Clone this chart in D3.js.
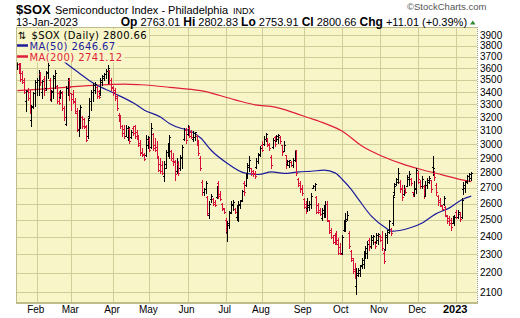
<!DOCTYPE html>
<html>
<head>
<meta charset="utf-8">
<script src="https://cdn.jsdelivr.net/npm/d3@7"></script>
<style>
  html, body { margin: 0; padding: 0; background: #fff; }
  svg { display: block; }
  text { font-family: "Liberation Sans", Arial, sans-serif; }
</style>
</head>
<body>
<svg id="chart" width="520" height="318"></svg>
<script>
// $SOX daily OHLC, 14-Jan-2022 .. 13-Jan-2023 (one entry per trading day)
var open = [3620,3640,3620,3560,3500,3330,3420,3400,3180,3290,3390,3480,3500,3550,3400,3510,3430,3570,3500,3340,
  3410,3530,3450,3390,3360,3390,3270,3150,3430,3500,3390,3380,3330,3230,3100,3220,3200,3190,3130,3060,
  3210,3330,3400,3420,3440,3410,3390,3480,3520,3550,3580,3580,3500,3440,3420,3370,3220,3200,3130,3110,
  3060,3050,3110,3050,3120,3130,3090,3050,3010,2940,2930,2920,2990,3030,2980,3070,2990,2980,2900,2860,
  2850,2780,2860,2940,2990,2950,2880,2880,2810,2860,2830,2900,3040,3100,3070,3120,3090,3040,3050,3060,
  3000,2900,2740,2670,2690,2640,2530,2630,2630,2610,2640,2730,2660,2600,2565,2500,2430,2470,2550,2590,
  2565,2520,2510,2590,2620,2730,2720,2780,2840,2830,2810,2800,2840,2880,2930,2990,3000,3040,3040,3000,
  2910,2980,3050,3020,3040,3050,2990,2950,2920,2860,2850,2870,2850,2890,2955,2760,2730,2700,2630,2600,
  2570,2580,2600,2700,2710,2640,2590,2560,2510,2540,2570,2600,2490,2440,2400,2410,2420,2380,2340,2310,
  2440,2480,2505,2420,2320,2280,2220,2130,2190,2200,2240,2250,2300,2310,2380,2345,2380,2370,2370,2380,
  2405,2400,2310,2330,2400,2440,2445,2480,2670,2725,2740,2740,2700,2660,2690,2710,2760,2760,2675,2660,
  2690,2800,2740,2710,2715,2650,2720,2740,2750,2840,2800,2720,2650,2620,2585,2595,2580,2525,2510,2500,
  2480,2490,2550,2520,2535,2520,2690,2700,2745,2780,2763.01];
var high = [3690,3650,3647,3574,3517,3419,3433,3419,3297,3400,3503,3517,3589,3570,3500,3531,3574,3650,3517,3419,
  3546,3589,3461,3406,3419,3406,3290,3447,3517,3517,3392,3419,3351,3272,3259,3297,3208,3195,3144,3195,
  3351,3419,3475,3480,3447,3419,3517,3546,3560,3590,3626,3589,3517,3447,3433,3378,3233,3221,3140,3144,
  3144,3131,3118,3105,3131,3144,3100,3068,3032,2971,2936,3068,3056,3044,3157,3080,3044,3020,2912,2900,
  2880,2877,2960,3007,3068,2960,2936,2889,2900,2877,2924,2995,3118,3118,3144,3130,3105,3093,3090,3068,
  3032,2912,2753,2698,2742,2645,2613,2660,2634,2624,2709,2742,2680,2602,2571,2510,2490,2551,2613,2624,
  2571,2592,2613,2624,2687,2742,2798,2866,2912,2832,2820,2809,2900,2936,2983,3020,3056,3080,3044,3007,
  2924,3044,3056,3068,3073,3056,2995,3020,2924,2889,2889,2877,2900,2960,2960,2764,2742,2720,2634,2613,
  2634,2613,2666,2720,2731,2645,2602,2571,2571,2592,2613,2613,2500,2451,2412,2422,2431,2393,2365,2412,
  2500,2541,2551,2431,2327,2282,2255,2228,2228,2245,2282,2318,2346,2374,2393,2412,2412,2374,2422,2420,
  2412,2431,2327,2422,2441,2500,2451,2655,2731,2764,2832,2753,2720,2720,2698,2787,2809,2764,2676,2742,
  2832,2809,2753,2775,2720,2742,2764,2775,2753,2912,2809,2731,2657,2634,2592,2645,2582,2531,2521,2510,
  2521,2531,2561,2561,2545,2634,2740,2745,2786,2795,2802.83];
var low = [3590,3560,3489,3475,3392,3246,3338,3233,3136,3270,3285,3378,3378,3460,3351,3378,3419,3520,3338,3324,
  3351,3433,3311,3300,3351,3259,3180,3144,3378,3338,3259,3311,3233,3093,3056,3118,3118,3120,3020,3044,
  3195,3259,3324,3392,3351,3351,3378,3461,3503,3520,3475,3475,3419,3378,3338,3259,3169,3118,3060,3044,
  3056,3032,3007,3044,3068,3044,3040,2983,2924,2912,2889,2912,2971,2948,2971,2960,2948,2900,2809,2798,
  2790,2742,2832,2912,2900,2889,2855,2753,2798,2787,2820,2832,3032,3007,3068,3050,3044,3020,3032,2995,
  2924,2820,2657,2657,2668,2531,2510,2610,2592,2582,2634,2634,2624,2561,2541,2422,2378,2451,2541,2561,
  2541,2500,2490,2571,2613,2657,2709,2764,2809,2787,2775,2764,2832,2866,2912,2948,2995,3020,2983,2960,
  2832,2971,2983,3020,3007,3007,2924,2948,2832,2855,2837,2843,2840,2880,2787,2709,2676,2657,2571,2541,
  2551,2561,2571,2698,2687,2541,2540,2531,2500,2520,2520,2490,2422,2392,2365,2360,2356,2300,2300,2300,
  2431,2431,2500,2337,2264,2200,2174,2090,2183,2183,2227,2227,2282,2282,2327,2337,2356,2337,2365,2356,
  2374,2327,2255,2327,2365,2422,2412,2472,2657,2720,2731,2676,2624,2657,2665,2709,2720,2720,2645,2645,
  2665,2731,2698,2698,2634,2645,2698,2731,2676,2787,2753,2657,2592,2582,2561,2592,2521,2480,2470,2441,
  2480,2470,2510,2510,2495,2514,2663,2675,2732,2745,2753.91];
var close = [3660,3580,3510,3485,3400,3412,3350,3260,3280,3390,3480,3500,3560,3480,3490,3420,3560,3630,3360,3400,
  3520,3560,3330,3310,3400,3270,3200,3430,3490,3440,3340,3320,3250,3110,3220,3280,3130,3125,3030,3180,
  3330,3400,3460,3470,3370,3360,3500,3530,3550,3580,3600,3500,3430,3400,3350,3270,3180,3130,3080,3060,
  3120,3125,3020,3090,3080,3060,3050,2990,2935,2920,2895,3040,3050,2960,3120,2975,2955,2910,2820,2810,
  2800,2830,2940,2990,3050,2900,2870,2790,2880,2800,2910,2980,3100,3030,3130,3060,3050,3080,3085,3000,
  2935,2830,2670,2690,2730,2540,2600,2650,2600,2590,2700,2650,2630,2570,2545,2440,2480,2540,2600,2610,
  2550,2580,2600,2615,2680,2670,2780,2850,2890,2800,2790,2775,2880,2920,2970,2960,3040,3070,2990,2970,
  2850,3030,3000,3060,3065,3020,2940,2990,2850,2880,2885,2850,2890,2950,2795,2720,2690,2665,2580,2560,
  2590,2600,2650,2715,2725,2550,2545,2535,2560,2580,2600,2500,2430,2400,2370,2365,2360,2310,2305,2400,
  2490,2495,2530,2345,2270,2210,2180,2200,2215,2235,2270,2300,2335,2360,2340,2400,2405,2345,2410,2415,
  2380,2335,2265,2410,2430,2490,2420,2640,2710,2755,2800,2690,2640,2700,2670,2770,2790,2730,2650,2700,
  2820,2760,2710,2760,2645,2720,2750,2765,2690,2830,2770,2670,2610,2590,2565,2635,2530,2490,2480,2455,
  2510,2520,2515,2545,2505,2625,2720,2740,2780,2789.65,2800.66];

// moving averages (trading-day index, value)
var ma50Idx = [22,26,34,42,53,64,70,79,84,90,94,101,107,115,125,133,140,147,155,162,169,175,179,184,188,195,203,206,216,223,230,238,245,250];
var ma50Val = [3710,3655,3560,3472,3392,3311,3255,3200,3150,3116,3103,3044,2952,2870,2799,2788,2806,2795,2806,2810,2817,2799,2755,2689,2625,2522,2451,2432,2451,2481,2533,2573,2625,2646.67];
var ma200Idx = [0,9,26,42,59,68,84,101,120,131,142,153,160,169,179,190,201,212,223,234,245,250];
var ma200Val = [3411,3419,3439,3455,3466,3460,3439,3411,3337,3297,3279,3232,3198,3155,3094,2984,2913,2860,2820,2786,2752,2741.12];

var yTicks = [2100,2200,2300,2400,2500,2600,2700,2800,2900,3000,3100,3200,3300,3400,3500,3600,3700,3800,3900];
var holidays = ['2022-01-17','2022-02-21','2022-04-15','2022-05-30','2022-06-20','2022-07-04',
  '2022-09-05','2022-11-24','2022-12-26','2023-01-02'];

// trading calendar
var dates = [];
(function() {
  var d = new Date(Date.UTC(2022, 0, 14));
  var end = new Date(Date.UTC(2023, 0, 13));
  var fmt = d3.utcFormat('%Y-%m-%d');
  while (d <= end) {
    var wd = d.getUTCDay();
    if (wd !== 0 && wd !== 6 && holidays.indexOf(fmt(d)) < 0) { dates.push(new Date(d)); }
    d = d3.utcDay.offset(d, 1);
  }
})();

var BG = '#F8F6C8', GRID = '#CFCE99', BORDER = '#BDBC8A';
var RED = '#D8103C', BLUE = '#1C1C9C', MARED = '#E01E3C';

var plotL = 16, plotT = 27, plotR = 476.7, plotB = 302.7;
var x = d3.scaleLinear().domain([-0.73, 253]).range([plotL, plotR]);
var y = d3.scaleLog().domain([2048, 3976]).range([plotB, plotT]);

var svg = d3.select('#chart');

svg.append('defs').append('clipPath').attr('id', 'plotclip')
  .append('rect').attr('x', plotL).attr('y', plotT).attr('width', plotR - plotL).attr('height', plotB - plotT);

svg.append('rect')
  .attr('x', plotL).attr('y', plotT).attr('width', plotR - plotL).attr('height', plotB - plotT)
  .attr('fill', BG);

// month starts
var monthStarts = d3.range(1, dates.length).filter(function(i) {
  return dates[i].getUTCMonth() !== dates[i - 1].getUTCMonth();
});

var grid = svg.append('g').attr('shape-rendering', 'crispEdges');
grid.selectAll('line.h').data(yTicks).enter().append('line')
  .attr('x1', plotL).attr('x2', plotR)
  .attr('y1', function(d) { return Math.round(y(d)) + 0.5; })
  .attr('y2', function(d) { return Math.round(y(d)) + 0.5; })
  .attr('stroke', GRID);
grid.selectAll('line.v').data(monthStarts).enter().append('line')
  .attr('y1', plotT).attr('y2', plotB)
  .attr('x1', function(i) { return Math.floor(x(i)) + 0.5; })
  .attr('x2', function(i) { return Math.floor(x(i)) + 0.5; })
  .attr('stroke', GRID);

var plot = svg.append('g').attr('clip-path', 'url(#plotclip)');

// moving averages
var line = d3.line()
  .x(function(d) { return x(d[0]); })
  .y(function(d) { return y(d[1]); })
  .curve(d3.curveMonotoneX);
plot.append('path').datum(d3.zip(ma200Idx, ma200Val))
  .attr('d', line).attr('fill', 'none').attr('stroke', MARED).attr('stroke-width', 1.2);
plot.append('path').datum(d3.zip(ma50Idx, ma50Val))
  .attr('d', line).attr('fill', 'none').attr('stroke', BLUE).attr('stroke-width', 1.2);

// OHLC bars
var bars = plot.append('g').attr('shape-rendering', 'crispEdges')
  .selectAll('g').data(d3.range(close.length)).enter().append('g')
  .attr('fill', function(i) { return i > 0 && close[i] < close[i - 1] ? RED : '#000'; });
function px(i) { return Math.floor(x(i)); }
bars.append('rect')
  .attr('x', px)
  .attr('y', function(i) { return Math.round(y(high[i])); })
  .attr('width', 1)
  .attr('height', function(i) { return Math.max(1, Math.round(y(low[i])) - Math.round(y(high[i])) + 1); });
bars.append('rect')
  .attr('x', function(i) { return px(i) - 1; })
  .attr('y', function(i) { return Math.round(y(open[i])); })
  .attr('width', 1).attr('height', 1);
bars.append('rect')
  .attr('x', function(i) { return px(i) + 1; })
  .attr('y', function(i) { return Math.round(y(close[i])); })
  .attr('width', 1).attr('height', 1);

// frame
var frame = svg.append('g').attr('shape-rendering', 'crispEdges').attr('fill', 'none');
frame.append('line').attr('x1', plotL + 0.5).attr('x2', plotL + 0.5).attr('y1', plotT).attr('y2', plotB + 1)
  .attr('stroke', BORDER).attr('stroke-width', 1.5);
frame.append('line').attr('x1', plotL).attr('x2', plotR).attr('y1', plotT + 0.5).attr('y2', plotT + 0.5)
  .attr('stroke', BORDER);
frame.append('line').attr('x1', plotL).attr('x2', plotR + 1).attr('y1', plotB + 0.5).attr('y2', plotB + 0.5)
  .attr('stroke', BORDER).attr('stroke-width', 1.5);
frame.append('line').attr('x1', plotR + 0.5).attr('x2', plotR + 0.5).attr('y1', plotT).attr('y2', plotB)
  .attr('stroke', '#9A9A80').attr('stroke-dasharray', '1,1');

// y labels
svg.append('g').selectAll('text').data(yTicks).enter().append('text')
  .attr('x', 480).attr('y', function(d) { return y(d) + 3.5; })
  .attr('font-size', 10).attr('fill', '#000')
  .text(function(d) { return d; });

// x labels
var fmtMonth = d3.utcFormat('%b');
svg.append('g').selectAll('text').data(monthStarts).enter().append('text')
  .attr('x', function(i) { return x(i) - 1.5; })
  .attr('y', 313)
  .attr('text-anchor', 'middle')
  .attr('font-size', function(i) { return dates[i].getUTCMonth() === 0 ? 11 : 10; })
  .attr('font-weight', function(i) { return dates[i].getUTCMonth() === 0 ? 'bold' : 'normal'; })
  .text(function(i) { return dates[i].getUTCMonth() === 0 ? dates[i].getUTCFullYear() : fmtMonth(dates[i]); });

// legend inside the plot
var lastC = close[close.length - 1];
var legend = svg.append('g').attr('font-size', 10);
var rows = [
  { t: '$SOX (Daily) ' + lastC.toFixed(2), c: '#000', y: 38.5 },
  { t: 'MA(50) ' + ma50Val[ma50Val.length - 1].toFixed(2), c: BLUE, y: 49.5, m: BLUE, my: 45.5 },
  { t: 'MA(200) ' + ma200Val[ma200Val.length - 1].toFixed(2), c: MARED, y: 60.5, m: MARED, my: 56.5 }
];
rows.forEach(function(r, k) {
  var tx = k === 0 ? 31.5 : 29.5;
  var txt = legend.append('text').attr('x', tx).attr('y', r.y).attr('fill', r.c)
    .style('font-family', '"DejaVu Sans", Verdana, sans-serif')
    .attr('letter-spacing', 0.4).text(r.t);
  var w = txt.node().getComputedTextLength();
  legend.insert('rect', 'text').attr('x', plotL + 1).attr('y', r.y - 9).attr('width', tx + w - plotL + 1)
    .attr('height', 11).attr('fill', BG);
  if (r.m) {
    legend.append('line').attr('x1', 17).attr('x2', 28).attr('y1', r.my).attr('y2', r.my)
      .attr('stroke', r.m).attr('stroke-width', 2.5);
  }
});
legend.append('text').attr('x', 18).attr('y', 38.5).attr('font-size', 10).attr('fill', '#000')
  .style('font-family', '"DejaVu Sans", sans-serif').text('\u21C5');

// header
var head = svg.append('g');
var title = head.append('text').attr('x', 16).attr('y', 13.5);
title.append('tspan').attr('font-size', 13).attr('font-weight', 'bold').text('$SOX');
title.append('tspan').attr('x', 55).attr('font-size', 11).text('Semiconductor Index - Philadelphia');
title.append('tspan').attr('dx', 5).attr('font-size', 9).text('INDX');
head.append('text').attr('x', 407).attr('y', 10).attr('font-size', 9.5).attr('fill', '#555')
  .text('\u00A9StockCharts.com');

head.append('text').attr('x', 16).attr('y', 25.5).attr('font-size', 11).text('13-Jan-2023');

var last = close.length - 1;
var chg = close[last] - close[last - 1];
var quote = [
  ['Op', true], [' ' + open[last].toFixed(2) + ' ', false],
  ['Hi', true], [' ' + high[last].toFixed(2) + ' ', false],
  ['Lo', true], [' ' + low[last].toFixed(2) + ' ', false],
  ['Cl', true], [' ' + close[last].toFixed(2) + ' ', false],
  ['Chg', true], [' +' + chg.toFixed(2) + ' (+' + (chg / close[last - 1] * 100).toFixed(2) + '%)', false]
];
var qt = head.append('text').attr('x', 120.7).attr('y', 25.5).attr('font-size', 11)
  .attr('xml:space', 'preserve').style('white-space', 'pre');
qt.selectAll('tspan').data(quote).enter().append('tspan')
  .attr('font-weight', function(d) { return d[1] ? 'bold' : 'normal'; })
  .attr('font-size', function(d) { return d[1] ? 12 : 11; })
  .text(function(d) { return d[0]; });
var qEnd = 120.7 + qt.node().getComputedTextLength() + 3;
head.append('path')
  .attr('d', 'M' + qEnd + ',24.5L' + (qEnd + 5.5) + ',24.5L' + (qEnd + 2.75) + ',20.5Z')
  .attr('fill', '#2E8B2E');
</script>
</body>
</html>
